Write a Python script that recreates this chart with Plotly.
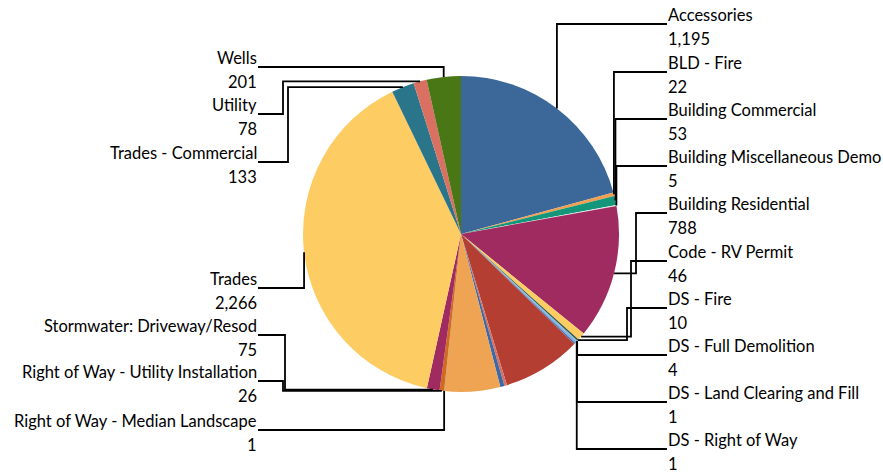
import math
import plotly.graph_objects as go

# ---------------- data ----------------
labels = [
    "Accessories", "BLD - Fire", "Building Commercial", "Building Miscellaneous Demo",
    "Building Residential", "Code - RV Permit", "DS - Fire", "DS - Full Demolition",
    "DS - Land Clearing and Fill", "DS - Right of Way",
    "Unlabeled 1", "Unlabeled 2", "Unlabeled 3", "Unlabeled 4", "Unlabeled 5", "Unlabeled 6",
    "Right of Way - Median Landscape", "Right of Way - Utility Installation",
    "Stormwater: Driveway/Resod", "Trades", "Trades - Commercial", "Utility", "Wells",
]
values = [1195, 22, 53, 5, 788, 46, 10, 4, 1, 1,
          12, 8, 462, 15, 25, 328,
          1, 26, 75, 2266, 133, 78, 201]
colors = ["#3b6799", "#f0a050", "#14967a", "#e8e8e8", "#a02b60", "#fdcd63", "#2c5a48",
          "#7fb0e0", "#3f72b5", "#b0b0b0",
          "#7fb0e0", "#3f72b5", "#b53e32", "#d97062", "#3c6aa8", "#eea452",
          "#14967a", "#d2691e", "#a02b60", "#fdcd63", "#2a758a", "#d97062", "#497716"]

# labelled slices: right column and left column
right_labels = labels[0:10]
left_labels = ["Wells", "Utility", "Trades - Commercial", "Trades",
               "Stormwater: Driveway/Resod", "Right of Way - Utility Installation",
               "Right of Way - Median Landscape"]

# ---------------- layout (pixels) ----------------
W, H = 883, 475
CX, CY, R = 461, 234, 158
right_text_x = 667
left_text_x = 258
right_line_y = [24, 72, 119, 166, 213, 261, 308, 355, 402, 449]
right_elbow_x = [None, None, None, None, 636, 631, 627, None, None, None]
left_line_y = [67, 114, 162, 288, 335, 381, 430]
left_elbow_x = [None, 283, 288, None, 285, 283, None]


def px(x):
    return x / W


def py(y):
    return 1 - y / H


total = sum(values)
mid_angle = {}
cum = 0
for lab, v in zip(labels, values):
    mid_angle[lab] = (cum + v / 2) / total * 2 * math.pi
    cum += v


def edge_point(lab):
    a = mid_angle[lab]
    return CX + R * math.sin(a), CY - R * math.cos(a)


fig = go.Figure()
fig.add_trace(go.Pie(
    labels=labels, values=values, sort=False, direction="clockwise", rotation=0,
    marker=dict(colors=colors, line=dict(width=0)),
    textinfo="none", hoverinfo="label+value", showlegend=False,
    domain=dict(x=[px(CX - R), px(CX + R)], y=[py(CY + R), py(CY - R)]),
))

shapes = []
annotations = []
FONT = dict(family="Lato, Open Sans, sans-serif", size=16.5, color="#000000")


def add_label(lab, ly, ex, tx, side):
    x0, y0 = edge_point(lab)
    if ex is None:
        ex = x0
    pts = [(x0, y0), (ex, y0), (ex, ly), (tx, ly)]
    path = "M " + " L ".join(f"{px(a):.5f},{py(b):.5f}" for a, b in pts)
    shapes.append(dict(type="path", path=path, xref="paper", yref="paper",
                       line=dict(color="#000000", width=1.8)))
    anchor = "left" if side == "right" else "right"
    v = values[labels.index(lab)]
    annotations.append(dict(x=px(tx), y=py(ly - 9), xref="paper", yref="paper",
                            text=lab, showarrow=False, xanchor=anchor, yanchor="middle",
                            font=FONT, borderpad=0))
    annotations.append(dict(x=px(tx), y=py(ly + 15), xref="paper", yref="paper",
                            text=f"{v:,}", showarrow=False, xanchor=anchor, yanchor="middle",
                            font=FONT, borderpad=0))


for lab, ly, ex in zip(right_labels, right_line_y, right_elbow_x):
    add_label(lab, ly, ex, right_text_x, "right")
for lab, ly, ex in zip(left_labels, left_line_y, left_elbow_x):
    add_label(lab, ly, ex, left_text_x, "left")

fig.update_layout(
    width=W, height=H, margin=dict(l=0, r=0, t=0, b=0),
    paper_bgcolor="white", plot_bgcolor="white",
    shapes=shapes, annotations=annotations,
)

fig.write_html("out.html", config={"displayModeBar": False},
               post_script="document.body.style.margin='0';document.body.style.overflow='hidden';")
